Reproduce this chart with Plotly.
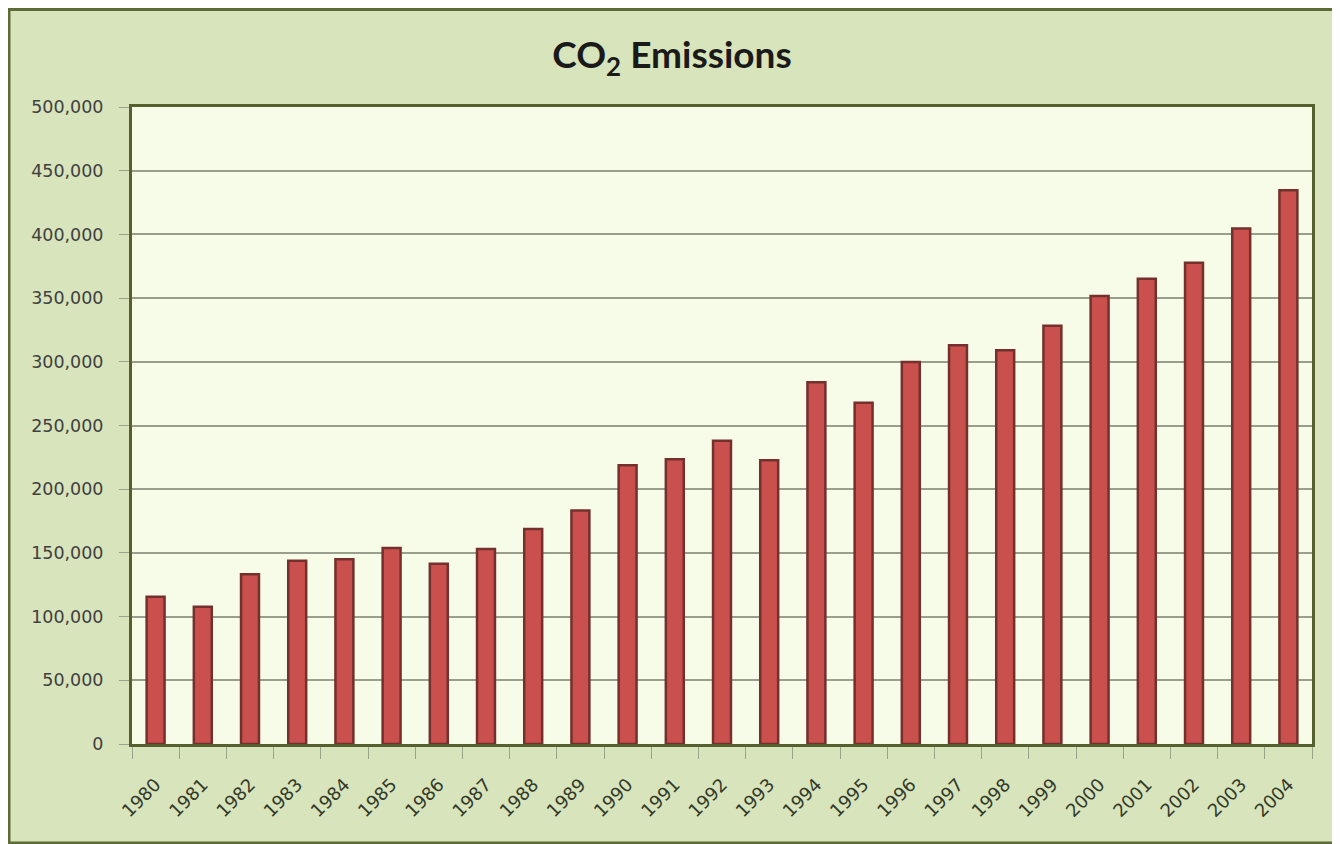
import plotly.graph_objects as go

years = [str(y) for y in range(1980, 2005)]
emissions = [115600, 107700, 133300, 143800, 145000, 153800, 141400, 153000, 168800,
             183300, 218800, 223500, 238000, 222700, 284000, 267800, 299800, 313000,
             309000, 328200, 351700, 365200, 377800, 404600, 434600]
y_ticks = list(range(0, 500001, 50000))
y_tick_labels = ["0" if v == 0 else f"{v:,}" for v in y_ticks]

# page body has an 8px margin; figure placed from (8,8)
OFF = 8
W, H = 1340 - OFF, 844 - OFF
L, R, T, B = 132 - OFF, 28, 107 - OFF, 100
pw, ph = W - L - R, H - T - B

def px(x):  # reference pixel -> paper
    return (x - OFF - L) / pw

def py(y):
    return (H - B - (y - OFF)) / ph

fig = go.Figure()
fig.add_trace(go.Bar(
    x=years, y=emissions, width=0.38,
    marker=dict(color="#c9504d", line=dict(color="#74302d", width=2.5)),
    hoverinfo="x+y",
))

fig.update_layout(
    width=W, height=H,
    margin=dict(l=L, r=R, t=T, b=B),
    paper_bgcolor="#d8e4bc",
    plot_bgcolor="#f7fce9",
    showlegend=False,
    title=dict(text="<b>CO<sub>2</sub> Emissions</b>", x=(672 - OFF) / W, xref="container",
               y=1 - (55 - OFF) / H, yref="container", xanchor="center", yanchor="middle",
               font=dict(family="Lato, Open Sans, sans-serif", size=37, color="#1a1a1a")),
    shapes=[
        dict(type="rect", xref="paper", yref="paper", layer="above",
             x0=px(9), x1=px(1336), y0=py(843), y1=py(9.5),
             fillcolor="rgba(0,0,0,0)", line=dict(color="#5d6b36", width=3)),
    ],
)

fig.update_xaxes(
    type="category", tickangle=-45, tickson="boundaries", ticks="outside",
    ticklen=12, tickcolor="#9aa48a", showgrid=False,
    showline=True, linecolor="#56602f", linewidth=3, mirror=True,
    ticklabelstandoff=20,
    tickfont=dict(family="DejaVu Sans", size=18, color="#333a2a"),
)
fig.update_yaxes(
    range=[0, 500000], tickvals=y_ticks, ticktext=y_tick_labels,
    ticks="outside", ticklen=10, tickcolor="#9aa48a",
    showgrid=True, gridcolor="#9a9e8c", gridwidth=1.5,
    showline=True, linecolor="#56602f", linewidth=3, mirror=True,
    zeroline=False, ticklabelstandoff=12,
    tickfont=dict(family="DejaVu Sans", size=17.5, color="#404040"),
)

fig.write_html("out.html")
